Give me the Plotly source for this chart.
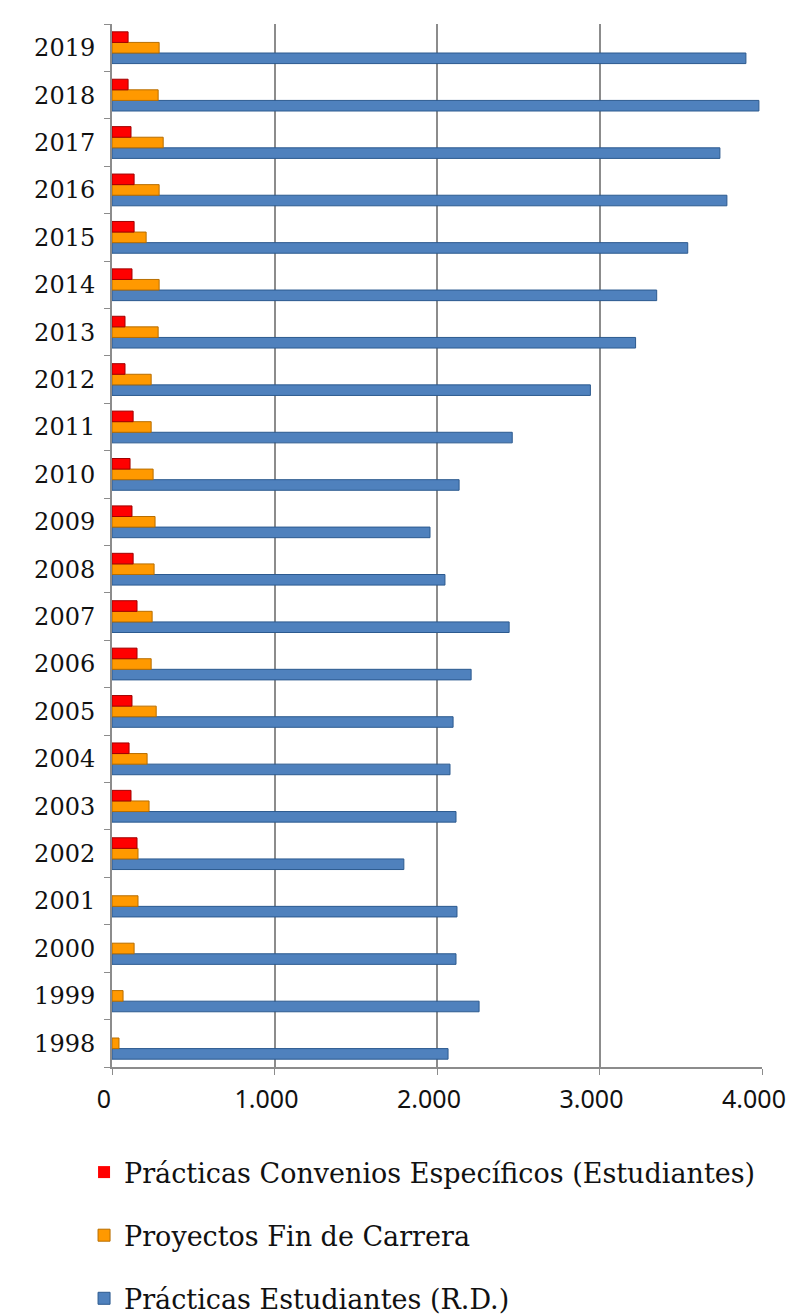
import plotly.graph_objects as go

years = [str(y) for y in range(1998, 2020)]

practicas_rd = [2068, 2259, 2117, 2123, 1796, 2117, 2080, 2099, 2210, 2444,
                2049, 1957, 2136, 2463, 2944, 3222, 3352, 3543, 3784, 3741,
                3981, 3901]
proyectos_fc = [43, 68, 136, 160, 160, 228, 216, 272, 241, 247,
                259, 265, 253, 241, 241, 284, 290, 210, 290, 315,
                284, 290]
convenios = [0, 0, 0, 0, 154, 117, 105, 123, 154, 154,
             130, 123, 111, 130, 80, 80, 123, 136, 136, 117,
             99, 99]

names = ["Prácticas Estudiantes (R.D.)", "Proyectos Fin de Carrera",
         "Prácticas Convenios Específicos (Estudiantes)"]
series = [practicas_rd, proyectos_fc, convenios]
colors = ["#4F81BD", "#FF9900", "#FF0000"]
edges = ["#2C5A8F", "#B86E00", "#A00000"]
ranks = [3, 2, 1]

serif = "DejaVu Serif"
sans = "Noto Sans"

fig = go.Figure()
for name, vals, col, edge, rk in zip(names, series, colors, edges, ranks):
    fig.add_trace(go.Bar(
        y=years, x=vals, orientation="h", name=name,
        legendgroup=name, legendrank=rk,
        marker=dict(color=col,
                    line=dict(color=edge,
                              width=[0 if v == 0 else 1 for v in vals])),
    ))

# page body has an 8px default margin, so the figure is 8px smaller
fig.update_layout(
    width=787, height=1308,
    margin=dict(l=104, r=33, t=16, b=249, autoexpand=False),
    paper_bgcolor="white", plot_bgcolor="white",
    barmode="group", bargap=0.33, bargroupgap=0.0,
    font=dict(family=serif, size=24, color="#111111"),
    showlegend=True,
    legend=dict(
        traceorder="grouped", tracegroupgap=25,
        x=-0.043, y=-0.0777, xanchor="left", yanchor="top",
        font=dict(family=serif, size=27, color="#111111"),
        itemwidth=30,
    ),
)
fig.update_xaxes(
    range=[0, 4000], tickvals=[0, 1000, 2000, 3000, 4000],
    ticktext=["0", "1.000", "2.000", "3.000", "4.000"],
    showgrid=True, gridcolor="#8C8C8C", gridwidth=1.5,
    showline=True, linecolor="#8C8C8C", linewidth=2,
    ticks="outside", ticklen=6, tickcolor="#8C8C8C",
    zeroline=False, automargin=False,
    ticklabelstandoff=3, ticklabelshift=-8,
    tickfont=dict(family=sans, size=25, color="#111111"),
)
fig.update_yaxes(
    type="category",
    showline=True, linecolor="#8C8C8C", linewidth=2,
    ticks="outside", tickson="boundaries", ticklen=6, tickcolor="#8C8C8C",
    showgrid=False, automargin=False,
    ticklabelstandoff=10,
    tickfont=dict(family=serif, size=24, color="#111111"),
)

fig.write_html("out.html")
